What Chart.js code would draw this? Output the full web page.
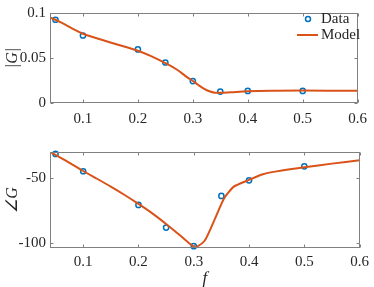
<!DOCTYPE html>
<html><head><meta charset="utf-8">
<script src="https://cdn.jsdelivr.net/npm/chart.js@4.4.0/dist/chart.umd.min.js"></script>
<style>
html,body{margin:0;padding:0;background:#fff;}
#wrap{position:relative;width:374px;height:287px;overflow:hidden;}
.p{position:absolute;left:0;width:374px;}
canvas{display:block;}
</style></head><body>
<div id="wrap">
<div class="p" style="top:0;height:130px"><canvas id="c1" width="374" height="130"></canvas></div>
<div class="p" style="top:130px;height:157px"><canvas id="c2" width="374" height="157"></canvas></div>
</div>
<script>
// ---- data ----
const freqData = [0.05, 0.1, 0.2, 0.25, 0.3, 0.35, 0.4, 0.5];
const magData = [0.0925, 0.075, 0.0595, 0.045, 0.0244, 0.0127, 0.0134, 0.0134];
const phaseData = [-31.0, -44.4, -70.5, -88.0, -102.4, -63.5, -51.4, -40.6];

const freqModelMag = [0.04, 0.06, 0.08, 0.1, 0.125, 0.15, 0.175, 0.2, 0.225, 0.25, 0.27, 0.29, 0.3, 0.31, 0.32, 0.33, 0.34, 0.35, 0.37, 0.4, 0.45, 0.5, 0.55, 0.6];
const magModel = [0.0952, 0.0895, 0.083, 0.077, 0.072, 0.0673, 0.0627, 0.058, 0.0518, 0.0443, 0.0375, 0.0285, 0.0244, 0.0200, 0.0160, 0.0130, 0.0115, 0.0113, 0.0120, 0.0130, 0.0136, 0.0138, 0.0137, 0.0135];

const freqModelPhase = [0.04, 0.07, 0.1, 0.125, 0.15, 0.175, 0.2, 0.225, 0.25, 0.275, 0.29, 0.3, 0.3025, 0.32, 0.3375, 0.355, 0.3725, 0.4, 0.425, 0.45, 0.5, 0.55, 0.6];
const phaseModel = [-29.3, -36.5, -44.2, -50.2, -56.3, -62.8, -69.7, -77.0, -85.2, -94.0, -99.5, -102.7, -103.6, -98.0, -82.0, -65.3, -56.3, -51.1, -46.7, -44.5, -41.3, -38.5, -35.9];

const xTicks = [0.1, 0.2, 0.3, 0.4, 0.5, 0.6];
const magTicks = [0, 0.05, 0.1];
const phaseTicks = [-100, -50];
const seriesNames = ['Data', 'Model'];

// ---- styles ----
const FONT = 'Liberation Serif';
const TXT = '#262626';
const BLUE = '#0072BD';
const ORANGE = '#D95319';

const fmt = v => String(Number(v.toFixed(3)));

const boxTicks = {
  id: 'boxTicks',
  afterDatasetsDraw(chart) {
    const {ctx, chartArea: a, scales: {x, y}} = chart;
    ctx.save();
    ctx.strokeStyle = '#808080';
    ctx.lineWidth = 1;
    const L = Math.round(a.left) + 0.5, R = Math.round(a.right) - 0.5;
    const T = Math.round(a.top) + 0.5, B = Math.round(a.bottom) - 0.5;
    ctx.strokeRect(L, T, R - L, B - T);
    ctx.beginPath();
    x.ticks.forEach(t => {
      const px = Math.round(x.getPixelForValue(t.value)) + 0.5;
      ctx.moveTo(px, B); ctx.lineTo(px, B - 3);
      ctx.moveTo(px, T); ctx.lineTo(px, T + 3);
    });
    y.ticks.forEach(t => {
      const py = Math.round(y.getPixelForValue(t.value)) + 0.5;
      ctx.moveTo(L, py); ctx.lineTo(L + 3, py);
      ctx.moveTo(R, py); ctx.lineTo(R - 3, py);
    });
    ctx.stroke();
    ctx.restore();
  }
};

const legendPlugin = {
  id: 'innerLegend',
  afterDraw(chart) {
    if (chart.canvas.id !== 'c1') return;
    const ctx = chart.ctx;
    ctx.save();
    ctx.strokeStyle = BLUE; ctx.lineWidth = 1.5;
    ctx.beginPath(); ctx.arc(308, 19, 2.5, 0, Math.PI * 2); ctx.stroke();
    ctx.strokeStyle = ORANGE; ctx.lineWidth = 2;
    ctx.beginPath(); ctx.moveTo(297, 35); ctx.lineTo(318, 35); ctx.stroke();
    ctx.fillStyle = TXT;
    ctx.font = '15px "' + FONT + '"';
    ctx.textBaseline = 'middle';
    ctx.fillText(seriesNames[0], 321, 19);
    ctx.fillText(seriesNames[1], 321, 35);
    ctx.restore();
  }
};

function makeChart(id, opts) {
  const dataPts = freqData.map((f, i) => ({x: f, y: opts.data[i]}));
  const modelPts = opts.mx.map((f, i) => ({x: f, y: opts.my[i]}));
  return new Chart(document.getElementById(id), {
    type: 'scatter',
    data: {
      datasets: [
        {label: seriesNames[1], data: modelPts, showLine: true, borderColor: ORANGE, borderWidth: 2,
         pointRadius: 0, tension: opts.tension, cubicInterpolationMode: opts.cubic, order: 0, clip: 0},
        {label: seriesNames[0], data: dataPts, showLine: false, borderColor: BLUE, backgroundColor: 'rgba(0,0,0,0)',
         pointRadius: 2.6, pointBorderWidth: 1.5, order: 1, clip: 3}
      ]
    },
    options: {
      responsive: false, animation: false,
      layout: {padding: {top: opts.padTop, right: 9, left: 0, bottom: 0}},
      plugins: {legend: {display: false}, tooltip: {enabled: false}},
      scales: {
        x: {
          type: 'linear', min: 0.04, max: 0.6,
          grid: {display: false, drawTicks: false}, border: {display: false},
          afterBuildTicks: s => { s.ticks = xTicks.map(v => ({value: v})); },
          afterFit: s => { s.height = opts.xH; },
          ticks: {padding: opts.xPad, color: TXT, font: {family: FONT, size: 15}, callback: v => fmt(v), maxRotation: 0, autoSkip: false},
          title: {display: !!opts.xTitle, text: opts.xTitle || '', color: TXT,
                  font: {family: FONT, size: 17, style: 'italic', lineHeight: 1}, padding: {top: 0, bottom: 0}}
        },
        y: {
          type: 'linear', min: opts.ymin, max: opts.ymax,
          grid: {display: false, drawTicks: false}, border: {display: false},
          afterBuildTicks: s => { s.ticks = opts.yTicks.map(v => ({value: v})); },
          afterFit: s => { s.width = 50; },
          ticks: {padding: 4, color: TXT, font: {family: FONT, size: 15}, callback: v => fmt(v), autoSkip: false},
          title: {display: true, text: opts.yTitle, color: TXT,
                  font: {family: FONT, size: 16, style: 'italic', lineHeight: 1}, padding: {top: 5, bottom: 0}}
        }
      }
    },
    plugins: [boxTicks, legendPlugin]
  });
}

makeChart('c1', {data: magData, mx: freqModelMag, my: magModel, tension: 0.4, cubic: 'monotone',
  padTop: 6, xH: 27, xPad: 7, ymin: 0, ymax: 0.1, yTicks: magTicks, yTitle: '|G|'});
makeChart('c2', {data: phaseData, mx: freqModelPhase, my: phaseModel, tension: 0.2, cubic: 'default',
  padTop: 22, xH: 39, xPad: 5, ymin: -103.8, ymax: -29.5, yTicks: phaseTicks, yTitle: '\u2220G', xTitle: 'f'});
</script>
</body></html>
